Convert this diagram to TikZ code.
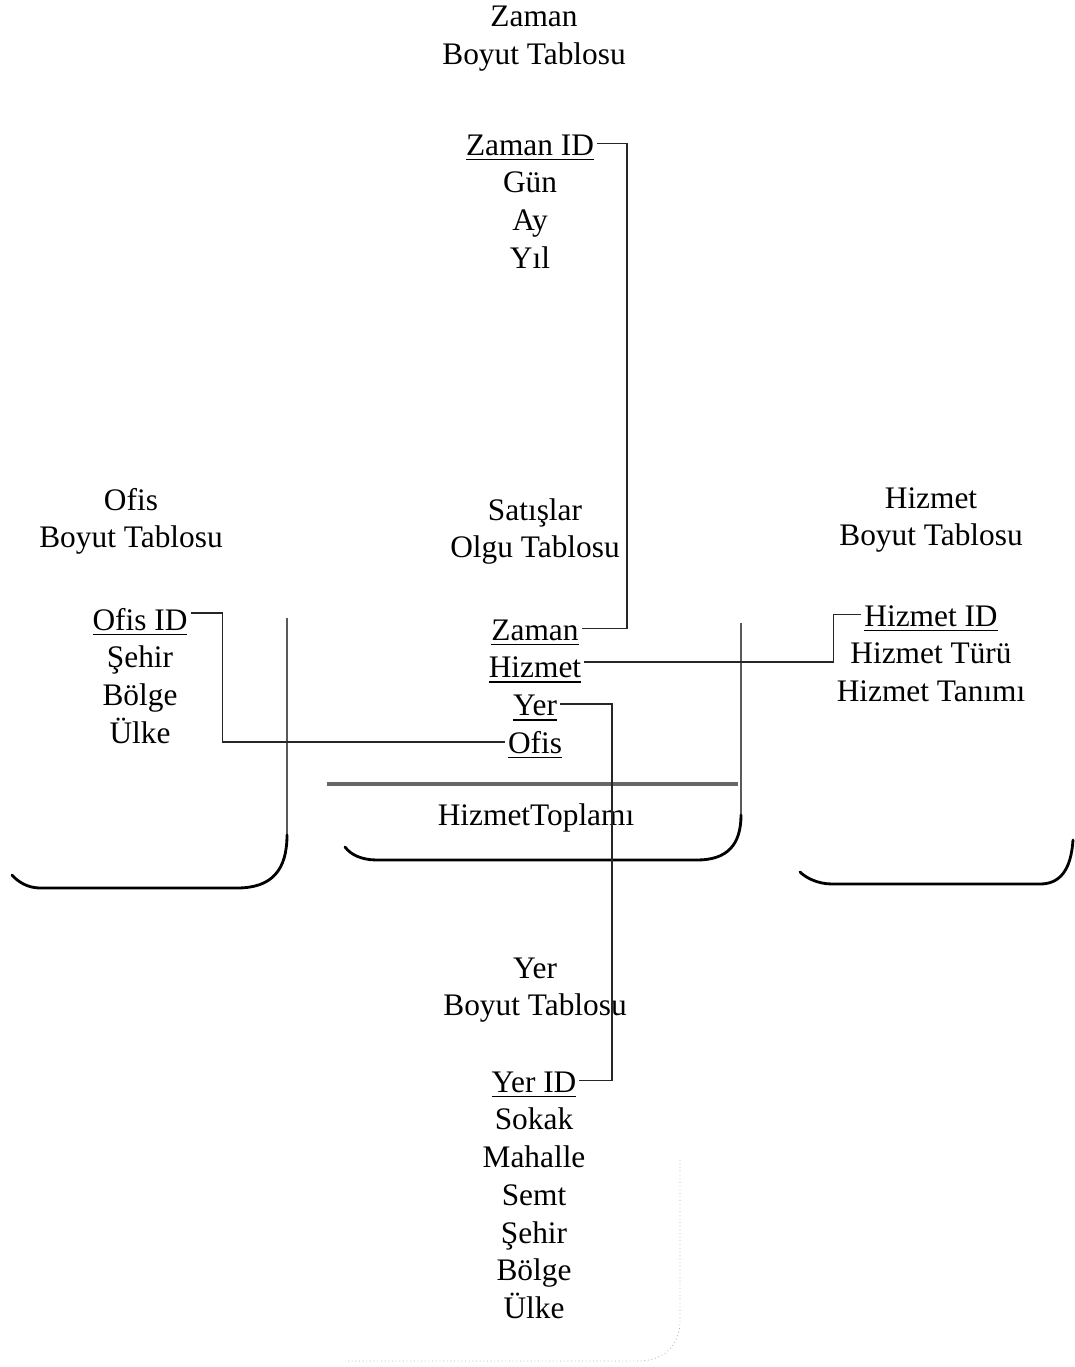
\documentclass[tikz,border=0pt]{standalone}
\usepackage{fontspec}
\setmainfont{Liberation Serif}
\usetikzlibrary{positioning}

\newsavebox{\keybox}
\newcommand{\keyul}[1]{\sbox{\keybox}{#1}\rlap{\rule[-3.6pt]{\wd\keybox}{1pt}}\usebox{\keybox}}

\begin{document}
\begin{tikzpicture}[
  x=0.025cm, y=-0.025cm,
  fld/.style={inner xsep=2pt, inner ysep=0pt, text height=0.75cm, text depth=0.18cm, font=\fontsize{22.3}{26}\selectfont},
  link/.style={line width=1pt, black!85},
  side/.style={line width=0.8pt, black!65},
  rim/.style={line width=2pt, line cap=round},
  sep/.style={line width=2.2pt, black!60},
  faint/.style={line width=0.6pt, black!30, dotted}
]
\useasboundingbox (0,0) rectangle (1075,1367);

% Zaman
\node[fld, anchor=base] (zt1) at (534,27) {Zaman};
\node[fld, below=0pt of zt1] (zt2) {Boyut Tablosu};
\node[fld, anchor=base] (zid) at (530,155) {\keyul{Zaman ID}};
\node[fld, below=0pt of zid] (zgun) {Gün};
\node[fld, below=0pt of zgun] (zay) {Ay};
\node[fld, below=0pt of zay] (zyil) {Yıl};

% Ofis
\node[fld, anchor=base] (ot1) at (131,510) {Ofis};
\node[fld, below=0pt of ot1] (ot2) {Boyut Tablosu};
\node[fld, anchor=base] (oid) at (140,630) {\keyul{Ofis ID}};
\node[fld, below=0pt of oid] (osehir) {Şehir};
\node[fld, below=0pt of osehir] (obolge) {Bölge};
\node[fld, below=0pt of obolge] (oulke) {Ülke};
\draw[side] (287,618) -- (287,835);
\draw[rim] (287,835) .. controls (287,870) and (272,888) .. (237,888) -- (40,888) .. controls (28,888) and (18,882) .. (12,875);

% Satislar
\node[fld, anchor=base] (st1) at (535,520) {Satışlar};
\node[fld, below=0pt of st1] (st2) {Olgu Tablosu};
\node[fld, anchor=base] (fzmn) at (535,640) {\keyul{Zaman}};
\node[fld, below=0pt of fzmn] (fhiz) {\keyul{Hizmet}};
\node[fld, below=0pt of fhiz] (fyer) {\keyul{Yer}};
\node[fld, below=0pt of fyer] (fofis) {\keyul{Ofis}};
\draw[sep] (327,784) -- (738,784);
\node[fld, anchor=base] (ftop) at (536,825) {HizmetToplamı};
\draw[side] (741,623) -- (741,815);
\draw[rim] (741,815) .. controls (741,845) and (727,860) .. (697,860) -- (377,860) .. controls (362,860) and (351,855) .. (345,847);

% Hizmet
\node[fld, anchor=base] (ht1) at (931,508) {Hizmet};
\node[fld, below=0pt of ht1] (ht2) {Boyut Tablosu};
\node[fld, anchor=base] (hid) at (931,626) {\keyul{Hizmet ID}};
\node[fld, below=0pt of hid] (htur) {Hizmet Türü};
\node[fld, below=0pt of htur] (htan) {Hizmet Tanımı};
\draw[rim] (1073,840) .. controls (1071,870) and (1060,884) .. (1040,884) -- (832,884) .. controls (818,884) and (806,878) .. (800,872);

% Yer
\node[fld, anchor=base] (yt1) at (535,978) {Yer};
\node[fld, below=0pt of yt1] (yt2) {Boyut Tablosu};
\node[fld, anchor=base] (yid) at (534,1092) {\keyul{Yer ID}};
\node[fld, below=0pt of yid] (ysokak) {Sokak};
\node[fld, below=0pt of ysokak] (ymah) {Mahalle};
\node[fld, below=0pt of ymah] (ysemt) {Semt};
\node[fld, below=0pt of ysemt] (ysehir) {Şehir};
\node[fld, below=0pt of ysehir] (ybolge) {Bölge};
\node[fld, below=0pt of ybolge] (yulke) {Ülke};
\draw[faint] (680,1160) -- (680,1320) .. controls (680,1345) and (665,1360) .. (640,1361) -- (345,1361);

% keys
\draw[link] (zid.east) -- ++(30,0) |- (fzmn.east);
\draw[link] (hid.west) -- ++(-28,0) |- ([yshift=3pt]fhiz.east);
\draw[link] (fyer.east) -- ++(52,0) |- (yid.east);
\draw[link] ([yshift=4pt]oid.east) -- ++(32,0) |- (fofis.west);
\end{tikzpicture}
\end{document}
